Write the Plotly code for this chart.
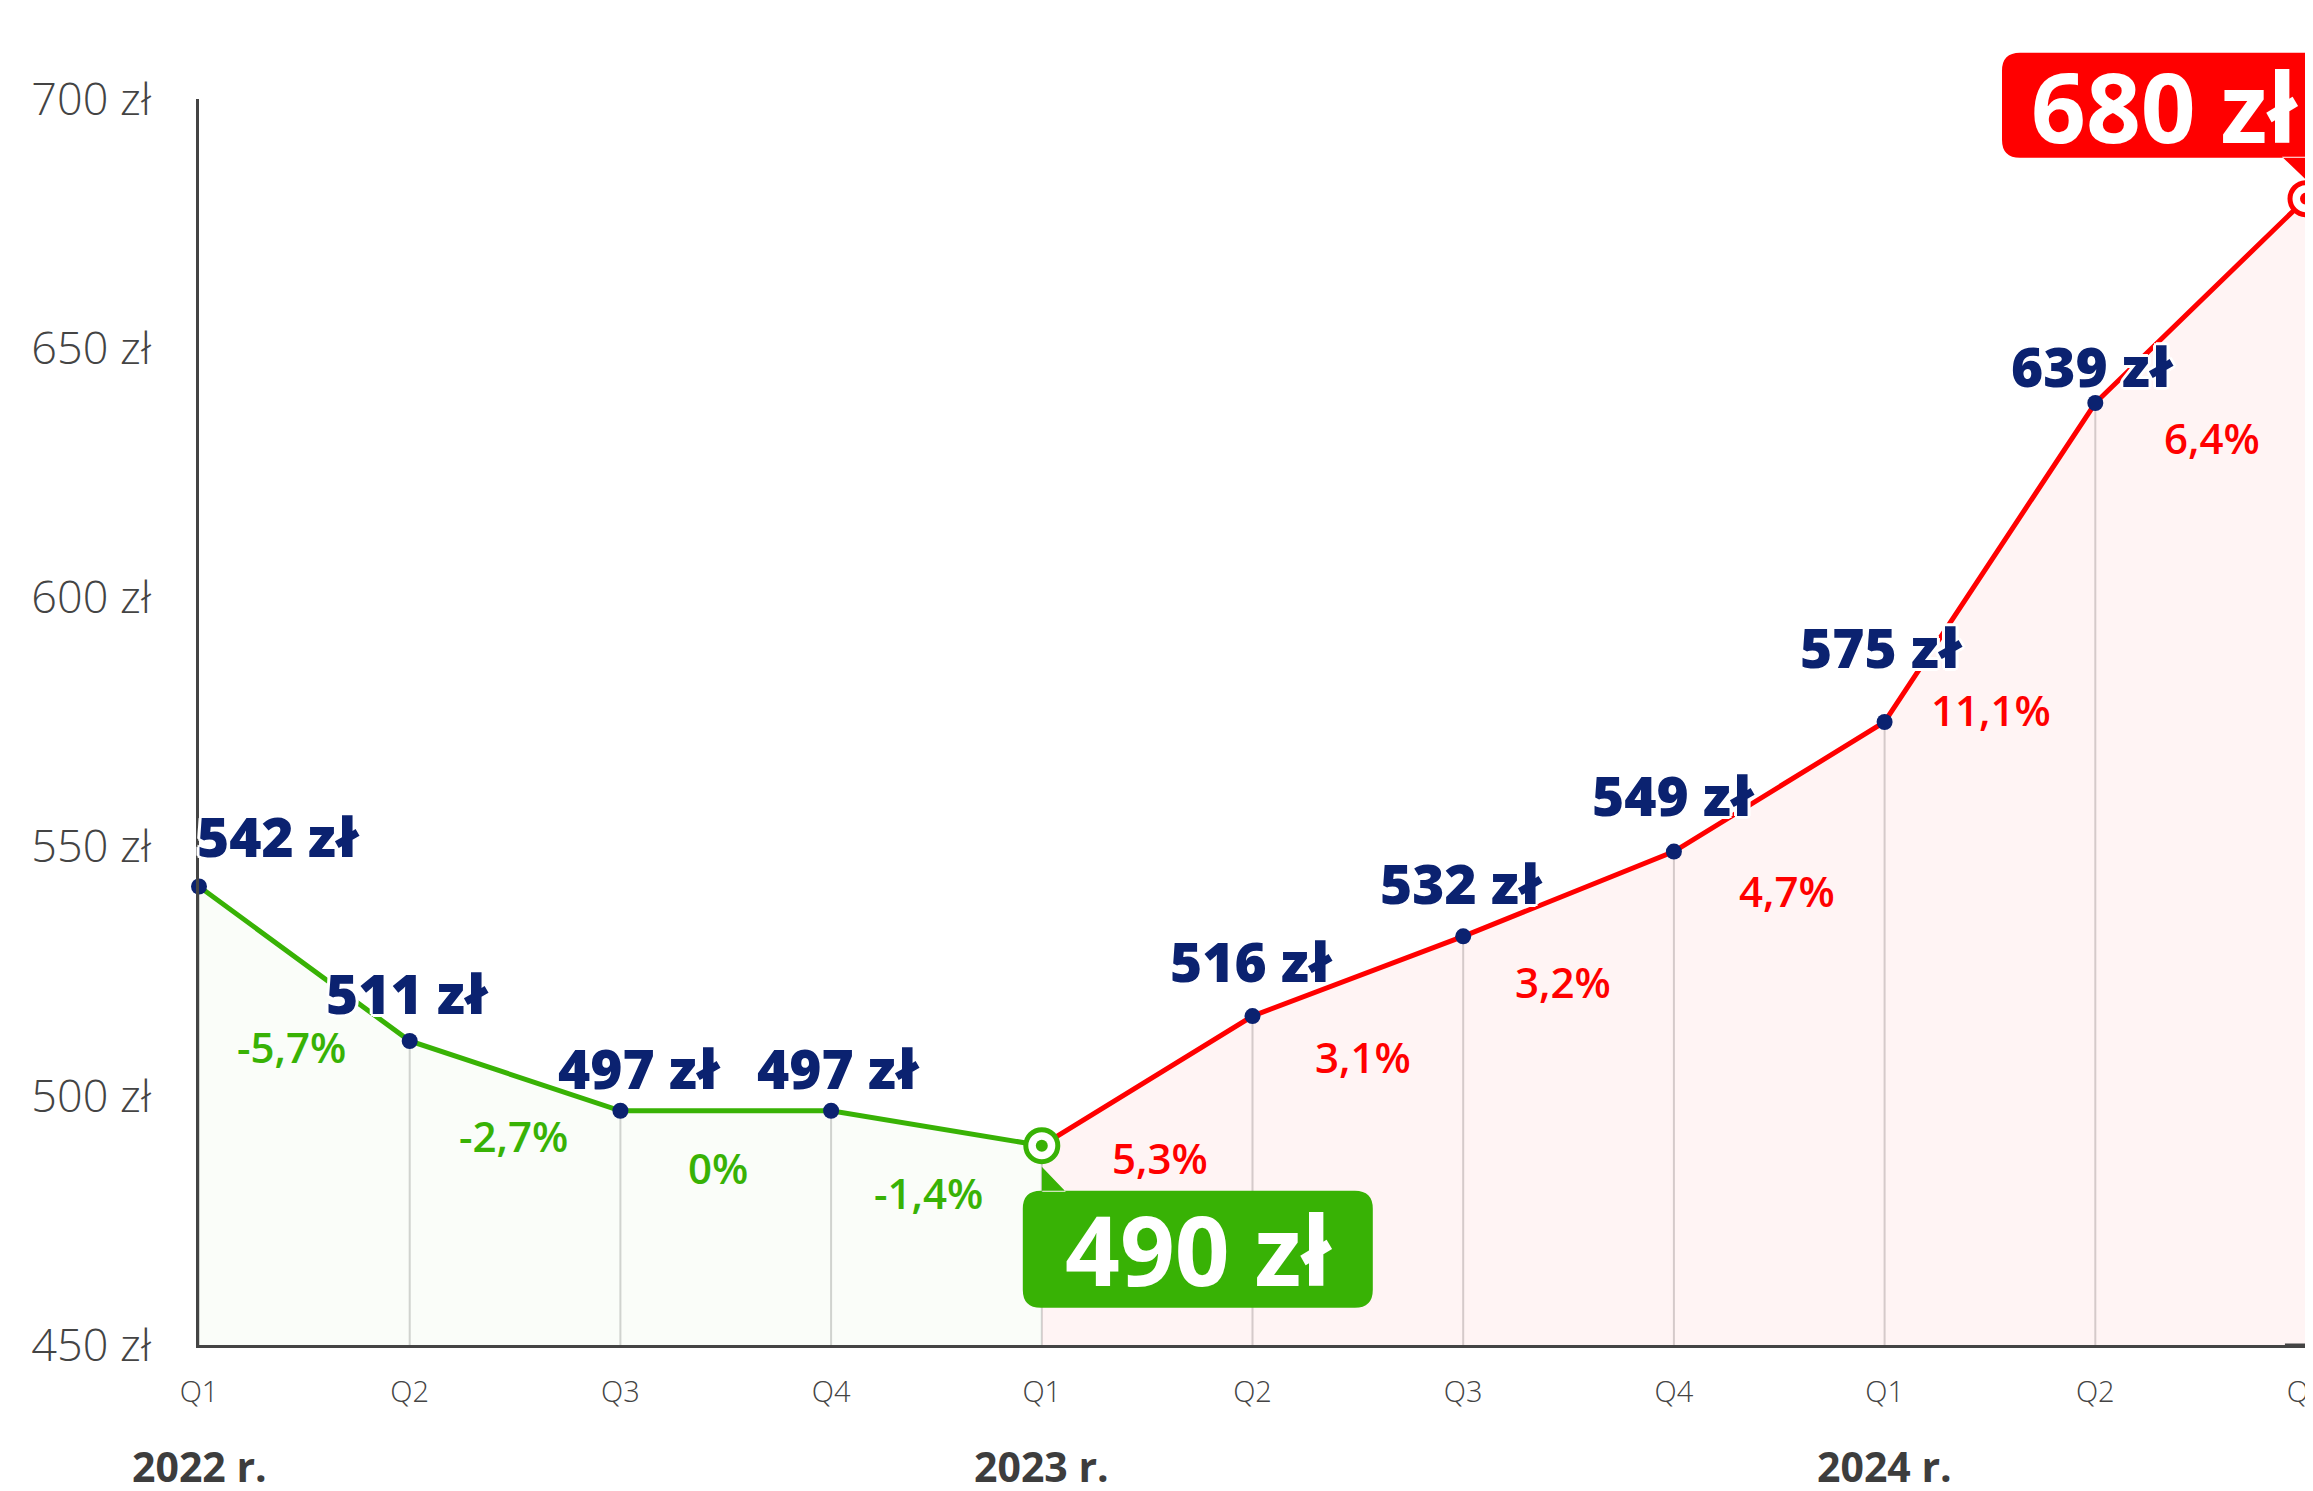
import plotly.graph_objects as go

# ---------------- data ----------------
quarters = ["Q1", "Q2", "Q3", "Q4", "Q1", "Q2", "Q3", "Q4", "Q1", "Q2", "Q3"]
years = ["2022 r.", "2023 r.", "2024 r."]
year_start_idx = [0, 4, 8]
prices = [542, 511, 497, 497, 490, 516, 532, 549, 575, 639, 680]
price_labels = ["542 zł", "511 zł", "497 zł", "497 zł", "490 zł", "516 zł",
                "532 zł", "549 zł", "575 zł", "639 zł", "680 zł"]
pct_changes = ["-5,7%", "-2,7%", "0%", "-1,4%", "5,3%", "3,1%", "3,2%",
               "4,7%", "11,1%", "6,4%"]
ytick_vals = [450, 500, 550, 600, 650, 700]
ytick_text = ["450 zł", "500 zł", "550 zł", "600 zł", "650 zł", "700 zł"]
min_idx = 4    # lowest price (green callout)
last_idx = 10  # latest price (red callout)
Y_MIN, Y_MAX = 450, 700

# ---------------- styles ----------------
GREEN = "#38b205"
RED = "#ff0000"
NAVY = "#0b2270"
GREY_TXT = "#444444"
FONT = "Open Sans"
# page body has an 8px margin -> figure is sized/offset accordingly
W, H = 2305, 1483
ML, MR, MT, MB = 191, 7, 91, 146

x = list(range(len(prices)))

fig = go.Figure()

# green part (decline)
fig.add_trace(go.Scatter(
    x=x[:min_idx + 1], y=prices[:min_idx + 1], mode="lines",
    line=dict(color=GREEN, width=5), fill="tozeroy",
    fillcolor="rgba(56,178,5,0.025)", hoverinfo="skip"))
# red part (growth)
fig.add_trace(go.Scatter(
    x=x[min_idx:], y=prices[min_idx:], mode="lines",
    line=dict(color=RED, width=5), fill="tozeroy",
    fillcolor="rgba(255,0,0,0.045)", hoverinfo="skip"))

# navy dots
dot_idx = [i for i in x if i not in (min_idx, last_idx)]
fig.add_trace(go.Scatter(
    x=[x[i] for i in dot_idx], y=[prices[i] for i in dot_idx], mode="markers",
    marker=dict(color=NAVY, size=16), cliponaxis=False, hoverinfo="skip"))

# special ring markers
for i, col in ((min_idx, GREEN), (last_idx, RED)):
    fig.add_trace(go.Scatter(
        x=[x[i]], y=[prices[i]], mode="markers",
        marker=dict(color="white", size=32, line=dict(color=col, width=5)),
        cliponaxis=False, hoverinfo="skip"))
    fig.add_trace(go.Scatter(
        x=[x[i]], y=[prices[i]], mode="markers",
        marker=dict(color=col, size=12), cliponaxis=False, hoverinfo="skip"))

shapes = []
# drop lines
for i in x[:-1]:
    shapes.append(dict(type="line", xref="x", yref="y", x0=x[i], x1=x[i],
                       y0=Y_MIN, y1=prices[i], layer="below",
                       line=dict(color="#d4d4d4", width=2)))
shapes.append(dict(type="line", xref="paper", yref="paper", x0=1, x1=1,
                   y0=0, y1=1.053, layer="below",
                   line=dict(color="#d4d4d4", width=2)))
# bottom axis line continues to the page edge
shapes.append(dict(type="line", xref="paper", yref="paper", x0=0.99, x1=1.01,
                   y0=0, y1=0, layer="above",
                   line=dict(color=GREY_TXT, width=3)))


def rounded_box(x0, y0, x1, y1, r):
    return (f"M{x0 + r},{y0} L{x1 - r},{y0} Q{x1},{y0} {x1},{y0 + r} "
            f"L{x1},{y1 - r} Q{x1},{y1} {x1 - r},{y1} L{x0 + r},{y1} "
            f"Q{x0},{y1} {x0},{y1 - r} L{x0},{y0 + r} Q{x0},{y0} {x0 + r},{y0} Z")


# green callout (below the minimum point) - pixel offsets, y up
green_path = rounded_box(-19, -162, 331, -45, 18) + " M0,-21 L0,-46 L24,-46 Z"
shapes.append(dict(type="path", xsizemode="pixel", ysizemode="pixel",
                   xanchor=x[min_idx], yanchor=prices[min_idx], xref="x", yref="y",
                   path=green_path, fillcolor=GREEN, line=dict(width=0)))
# red callout (above the last point) - paper refs so it is not clipped
last_px = (x[last_idx] - x[0]) / (x[-1] - x[0])
last_py = (prices[last_idx] - Y_MIN) / (Y_MAX - Y_MIN)
red_path = rounded_box(-304, 41, 22, 146, 18) + " M-24,42 L0,42 L0,19 Z"
shapes.append(dict(type="path", xsizemode="pixel", ysizemode="pixel",
                   xanchor=last_px, yanchor=last_py, xref="paper", yref="paper",
                   path=red_path, fillcolor=RED, line=dict(width=0)))

annotations = []
SHADOW = ("3px 0 0 #fff, -3px 0 0 #fff, 0 3px 0 #fff, 0 -3px 0 #fff, "
          "2px 2px 0 #fff, -2px -2px 0 #fff, 2px -2px 0 #fff, -2px 2px 0 #fff")

# price labels (navy)
label_shift = {0: (-4, 51, "left"), 1: (-2, 48, "center"), 2: (19, 43, "center"),
               3: (7, 43, "center"), 5: (-1, 56, "center"), 6: (-2, 54, "center"),
               7: (0, 57, "center"), 8: (-3, 76, "center"), 9: (-3, 38, "center")}
for i, (xs, ys, anc) in label_shift.items():
    annotations.append(dict(
        x=x[i], y=prices[i], xref="x", yref="y", text=price_labels[i],
        showarrow=False, xanchor=anc, yanchor="middle", xshift=xs, yshift=ys,
        font=dict(family=FONT, size=55, color=NAVY, weight=800, shadow=SHADOW)))

# percent change labels
pct_shift = [(-13, -83), (-2, -60), (-8, -57), (-8, -64), (13, -77),
             (5, -80), (-6, -88), (8, -104), (1, -147), (11, -137)]
for i, txt in enumerate(pct_changes):
    col = GREEN if prices[i + 1] <= prices[i] else RED
    xs, ys = pct_shift[i]
    annotations.append(dict(
        x=x[i] + 0.5, y=(prices[i] + prices[i + 1]) / 2, xref="x", yref="y",
        text=txt, showarrow=False, xshift=xs, yshift=ys,
        font=dict(family=FONT, size=42, color=col, weight=600)))

# callout texts
annotations.append(dict(x=x[min_idx], y=prices[min_idx], xref="x", yref="y",
                        text=price_labels[min_idx], showarrow=False,
                        xshift=157, yshift=-103,
                        font=dict(family=FONT, size=96, color="white", weight=700)))
annotations.append(dict(x=x[last_idx], y=prices[last_idx], xref="x", yref="y",
                        text=price_labels[last_idx], showarrow=False,
                        xshift=-142, yshift=93,
                        font=dict(family=FONT, size=96, color="white", weight=700)))

# year labels
for yi, lbl in zip(year_start_idx, years):
    annotations.append(dict(x=x[yi], y=-0.097, xref="x", yref="paper", text=lbl,
                            showarrow=False, yanchor="middle",
                            font=dict(family=FONT, size=41, color="#3d3d3d", weight=700)))

fig.update_layout(
    width=W, height=H,
    margin=dict(l=ML, r=MR, t=MT, b=MB, pad=0, autoexpand=False),
    paper_bgcolor="white", plot_bgcolor="rgba(0,0,0,0)",
    showlegend=False,
    shapes=shapes, annotations=annotations,
    xaxis=dict(range=[x[0], x[-1]], tickvals=x, ticktext=quarters, showgrid=False,
               zeroline=False, showline=True, linecolor=GREY_TXT, linewidth=3,
               ticks="", ticklabelstandoff=19, ticklabeloverflow="allow",
               automargin=False,
               tickfont=dict(family=FONT, size=29, color=GREY_TXT, weight=300)),
    yaxis=dict(range=[Y_MIN, Y_MAX], tickvals=ytick_vals, ticktext=ytick_text,
               showgrid=False, zeroline=False, showline=True, linecolor=GREY_TXT,
               linewidth=3, ticks="", ticklabelstandoff=36, automargin=False,
               tickfont=dict(family=FONT, size=45, color=GREY_TXT, weight=300)),
)

fig.write_html("out.html")
